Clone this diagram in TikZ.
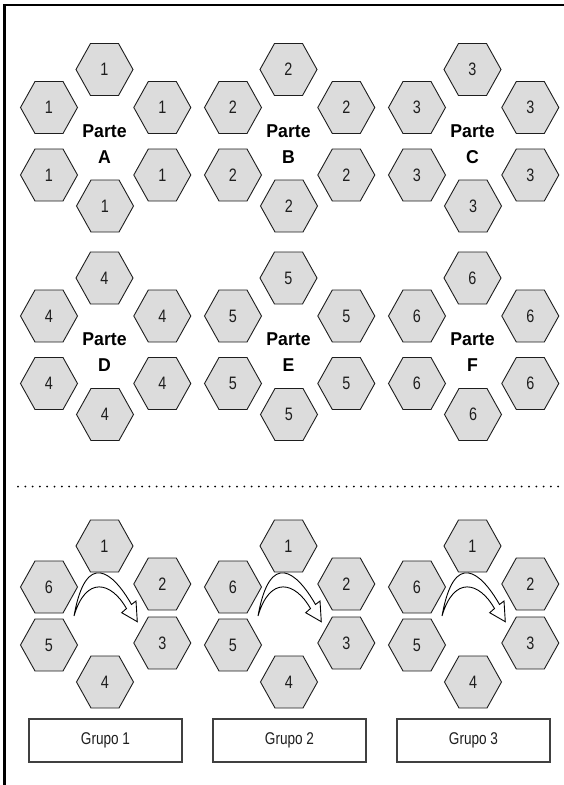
\documentclass[tikz,border=0pt]{standalone}
\usepackage{fontspec}
\setmainfont[FakeStretch=0.8]{Liberation Sans}
\newfontfamily\partefont[FakeStretch=0.95]{Liberation Sans}
\definecolor{hexfill}{HTML}{DCDCDC}
\definecolor{ink}{HTML}{1E1E1E}
\tikzset{
  hexline/.style={draw=ink, line width=0.9pt, fill=hexfill, line join=miter},
  hexlabel/.style={inner sep=0pt, text=ink, font=\fontsize{18}{20}\selectfont},
  partelabel/.style={inner sep=0pt, anchor=base, text=black, font=\partefont\bfseries\fontsize{18.6}{22}\selectfont},
  grupobox/.style={draw=ink!85, line width=1.1pt, fill=white, minimum width=153pt, minimum height=43pt, inner sep=0pt, text=ink, font=\fontsize{17}{20}\selectfont},
  turnarrowstyle/.style={draw=black, line width=0.9pt, fill=white, line join=miter},
  frameline/.style={draw=black, line width=2.7pt},
  dotline/.style={draw=black, line width=2pt, line cap=round, dash pattern=on 0pt off 7.3pt}
}
\newcommand{\hexcell}[4]{%
  \draw[hexline] (#1,#2) ++(-28.5,0) -- ++(14.5,-26) -- ++(28,0) -- ++(14.5,26) -- ++(-14.5,26) -- ++(-28,0) -- cycle;
  \node[hexlabel] (#4) at (#1,#2) {#3};}
\newcommand{\partcluster}[5]{%
  \hexcell{#1}{69.5+#2}{#3}{#5t}
  \hexcell{#1-55.5}{107.5+#2}{#3}{#5ul}
  \hexcell{#1+57.8}{107.5+#2}{#3}{#5ur}
  \hexcell{#1-55.5}{175+#2}{#3}{#5ll}
  \hexcell{#1+57.8}{175+#2}{#3}{#5lr}
  \hexcell{#1+0.5}{206+#2}{#3}{#5b}
  \node[partelabel] (#5p) at (#1,137+#2) {Parte};
  \node[partelabel] (#5l) at (#1,163+#2) {#4};}
\newcommand{\rotgroup}[3]{%
  \hexcell{104.5+#1}{546}{1}{#2a}
  \hexcell{49+#1}{587}{6}{#2f}
  \hexcell{162.3+#1}{584}{2}{#2b}
  \hexcell{49+#1}{645}{5}{#2e}
  \hexcell{162.3+#1}{643}{3}{#2c}
  \hexcell{105+#1}{682}{4}{#2d}
  \draw[turnarrowstyle] (74+#1,616) .. controls (86+#1,549) and (113+#1,572) .. (131.5+#1,604.5)
     -- (136+#1,601) -- (137.3+#1,621.7) -- (121.7+#1,612.7) -- (126.5+#1,608.5)
     .. controls (111.4+#1,581.9) and (86+#1,575) .. (74+#1,616) -- cycle;
  \node[grupobox] (#2box) at (105.5+#1,740.5) {Grupo #3};}
\begin{document}
\begin{tikzpicture}[x=1pt,y=-1pt]
  \useasboundingbox (0,0) rectangle (564,785);
  \fill[white] (0,0) rectangle (564,785);
  \coordinate (frTL) at (4.7,5);
  \coordinate (frTR) at (564,5);
  \coordinate (frBL) at (4.7,785);
  \draw[frameline] (frTR) -- (frTL) -- (frBL);
  \partcluster{104.5}{0}{1}{A}{pa}
  \partcluster{288.5}{0}{2}{B}{pb}
  \partcluster{472.5}{0}{3}{C}{pc}
  \partcluster{104.5}{208.5}{4}{D}{pd}
  \partcluster{288.5}{208.5}{5}{E}{pe}
  \partcluster{472.5}{208.5}{6}{F}{pf}
  \coordinate (dotL) at (18,486.5);
  \coordinate (dotR) at (561,486.5);
  \draw[dotline] (dotL) -- (dotR);
  \rotgroup{0}{ga}{1}
  \rotgroup{184}{gb}{2}
  \rotgroup{368}{gc}{3}
\end{tikzpicture}
\end{document}
